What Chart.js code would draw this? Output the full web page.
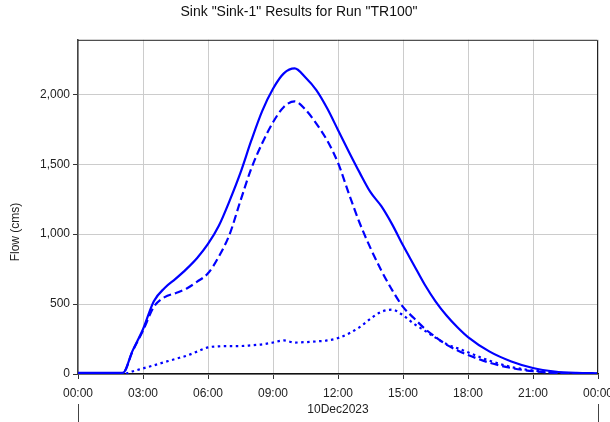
<!DOCTYPE html>
<html>
<head>
<meta charset="utf-8">
<script src="https://cdn.jsdelivr.net/npm/chart.js@4/dist/chart.umd.min.js"></script>
<style>
  html, body { margin: 0; padding: 0; background: #fff; }
  #wrap { width: 610px; height: 422px; }
</style>
</head>
<body>
<div id="wrap"><canvas id="sinkChart"></canvas></div>
<script>
// hours after 00:00 on 10Dec2023
const hours = [0, 1, 2, 2.1, 2.5, 3, 3.5, 4, 4.5, 5, 5.5, 6, 6.5, 7, 7.5, 8, 8.5, 9, 9.5, 10, 10.5, 11, 11.5, 12,
  12.5, 13, 13.5, 14, 14.5, 15, 15.5, 16, 16.5, 17, 17.5, 18, 19, 20, 21, 22, 23, 24];
// solid line
const flowTotal = [8, 8, 8, 10, 160, 320, 520, 615, 680, 750, 830, 930, 1060, 1240, 1440, 1670, 1880, 2040, 2150, 2185,
  2120, 2030, 1900, 1745, 1590, 1440, 1300, 1200, 1070, 920, 780, 640, 520, 420, 336, 264, 160, 90, 43, 18, 8, 5];
// dashed line
const flowDashed = [5, 5, 5, 8, 155, 310, 480, 550, 578, 610, 660, 720, 840, 1000, 1240, 1470, 1650, 1800, 1910, 1950,
  1890, 1790, 1670, 1510, 1290, 1080, 900, 740, 600, 480, 400, 325, 265, 210, 170, 136, 80, 43, 20, 8, 4, 2];
// dotted line
const flowDotted = [0, 0, 0, 0, 18, 40, 62, 85, 108, 130, 160, 190, 198, 200, 200, 205, 212, 225, 240, 225,
  228, 233, 240, 257, 290, 335, 395, 445, 460, 420, 360, 310, 260, 215, 185, 155, 95, 50, 25, 10, 5, 3];
const yTickValues = [0, 500, 1000, 1500, 2000];
const xTickHours = [0, 3, 6, 9, 12, 15, 18, 21, 24];
const yMax = 2390;
const dateLabel = '10Dec2023';

const toPoints = function (vals) {
  return hours.map(function (h, i) { return { x: h, y: vals[i] }; });
};

const FONT = 'Arial, "Liberation Sans", sans-serif';

// frame, y-axis label and the date marker lines
const extras = {
  id: 'extras',
  afterDraw: function (chart) {
    const ctx = chart.ctx;
    const a = chart.chartArea;
    const xs = chart.scales.x;
    ctx.save();
    ctx.strokeStyle = '#222';
    ctx.lineWidth = 1;
    ctx.beginPath();
    ctx.moveTo(a.left, a.top + 0.5);
    ctx.lineTo(a.right - 0.5, a.top + 0.5);
    ctx.lineTo(a.right - 0.5, a.bottom);
    ctx.stroke();

    ctx.strokeStyle = '#444';
    ctx.beginPath();
    [0, 24].forEach(function (v) {
      const px = Math.round(xs.getPixelForValue(v)) + 0.5;
      ctx.moveTo(px, 404);
      ctx.lineTo(px, 422);
    });
    ctx.stroke();

    ctx.fillStyle = '#222';
    ctx.font = '12px ' + FONT;
    ctx.textAlign = 'center';
    ctx.textBaseline = 'middle';
    ctx.translate(16, 232);
    ctx.rotate(-Math.PI / 2);
    ctx.fillText('Flow (cms)', 0, 0);
    ctx.restore();
  }
};

new Chart(document.getElementById('sinkChart'), {
  type: 'line',
  data: {
    datasets: [
      {
        label: 'Total',
        data: toPoints(flowTotal),
        borderColor: '#0000ff',
        borderWidth: 2.2
      },
      {
        label: 'Dashed',
        data: toPoints(flowDashed),
        borderColor: '#0000ff',
        borderWidth: 2.2,
        borderDash: [8, 4]
      },
      {
        label: 'Dotted',
        data: toPoints(flowDotted),
        borderColor: '#0000ff',
        borderWidth: 2.2,
        borderDash: [2.5, 3.5]
      }
    ]
  },
  options: {
    responsive: true,
    maintainAspectRatio: false,
    animation: false,
    layout: { padding: { left: 0, right: 12, top: 0, bottom: 0 } },
    elements: {
      point: { radius: 0 },
      line: { cubicInterpolationMode: 'monotone', fill: false }
    },
    plugins: {
      legend: { display: false },
      tooltip: { enabled: false },
      title: {
        display: true,
        text: 'Sink "Sink-1" Results for Run "TR100"',
        color: '#111',
        font: { family: FONT, size: 14, weight: 'normal' },
        padding: { top: 4, bottom: 19 }
      }
    },
    scales: {
      x: {
        type: 'linear',
        min: 0,
        max: 24,
        afterBuildTicks: function (s) { s.ticks = xTickHours.map(function (v) { return { value: v }; }); },
        afterFit: function (s) { s.height = 48; s.paddingLeft = 0; s.paddingRight = 0; },
        ticks: {
          maxRotation: 0,
          autoSkip: false,
          padding: 7,
          color: '#222',
          font: { family: FONT, size: 12 },
          callback: function (v) { return String(v % 24).padStart(2, '0') + ':00'; }
        },
        grid: { color: '#cccccc', tickColor: '#333', tickLength: 5 },
        border: { color: '#111', width: 1.5 },
        title: {
          display: true,
          text: dateLabel,
          color: '#222',
          font: { family: FONT, size: 12 },
          padding: { top: 0, bottom: 5 }
        }
      },
      y: {
        min: 0,
        max: yMax,
        afterBuildTicks: function (s) { s.ticks = yTickValues.map(function (v) { return { value: v }; }); },
        afterFit: function (s) { s.width = 78; s.paddingTop = 0; s.paddingBottom = 0; },
        ticks: {
          autoSkip: false,
          padding: 3,
          color: '#222',
          font: { family: FONT, size: 12 },
          callback: function (v) { return v.toLocaleString('en-US'); }
        },
        grid: { color: '#cccccc', tickColor: '#333', tickLength: 5 },
        border: { color: '#444', width: 1.5 }
      }
    }
  },
  plugins: [extras]
});
</script>
</body>
</html>
